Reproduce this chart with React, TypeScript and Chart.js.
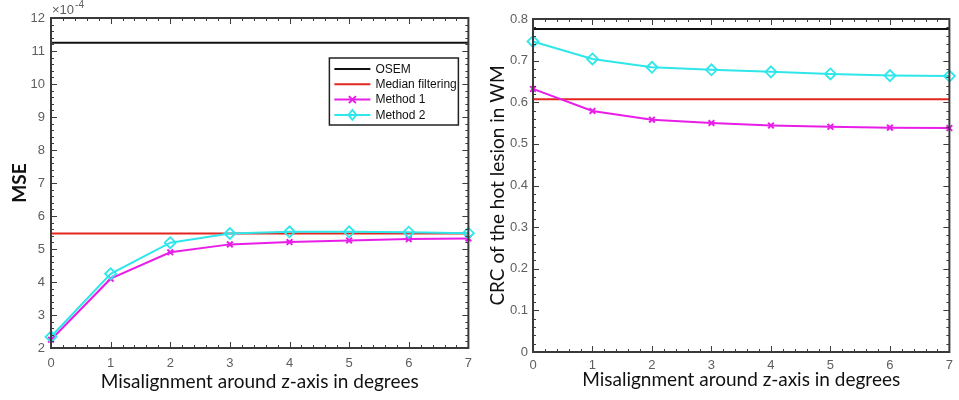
import React, { useEffect, useRef } from 'react';
import { Chart, registerables } from 'chart.js';

Chart.register(...registerables);

// ---------- data ----------
const degrees = [0, 1, 2, 3, 4, 5, 6, 7];

// MSE (×10^-4)
const mseOSEM = [11.25, 11.25, 11.25, 11.25, 11.25, 11.25, 11.25, 11.25];
const mseMedian = [5.47, 5.47, 5.47, 5.47, 5.47, 5.47, 5.47, 5.47];
const mseMethod1 = [2.25, 4.1, 4.9, 5.14, 5.21, 5.26, 5.3, 5.32];
const mseMethod2 = [2.34, 4.25, 5.19, 5.47, 5.52, 5.52, 5.51, 5.48];

// CRC of the hot lesion in WM
const crcOSEM = [0.776, 0.776, 0.776, 0.776, 0.776, 0.776, 0.776, 0.776];
const crcMedian = [0.607, 0.607, 0.607, 0.607, 0.607, 0.607, 0.607, 0.607];
const crcMethod1 = [0.632, 0.579, 0.558, 0.55, 0.544, 0.541, 0.539, 0.538];
const crcMethod2 = [0.746, 0.704, 0.684, 0.678, 0.673, 0.668, 0.664, 0.663];

const seriesNames = ['OSEM', 'Median filtering', 'Method 1', 'Method 2'];
const xTitle = 'Misalignment around z-axis in degrees';
const mseTitle = 'MSE';
const crcTitle = 'CRC of the hot lesion in WM';
const mseExponentBase = '×10';
const mseExponent = '-4';

// ---------- styles ----------
const BLACK = '#111111';
const RED = '#e3261f';
const MAGENTA = '#e81ee8';
const CYAN = '#2fe6ea';
const TICK_COLOR = '#5e5e5e';
const TICK_FONT = { family: '"Liberation Sans", Arial, sans-serif', size: 13 };
const TITLE_FONT_FAMILY = 'Lato, "Open Sans", sans-serif';

function makeDatasets(osem: number[], median: number[], m1: number[], m2: number[]) {
  const toPts = (arr: number[]) => degrees.map((d, i) => ({ x: d, y: arr[i] }));
  return [
    {
      label: seriesNames[0], data: toPts(osem), borderColor: BLACK, borderWidth: 2,
      pointRadius: 0, order: 4, clip: false as const,
    },
    {
      label: seriesNames[1], data: toPts(median), borderColor: RED, borderWidth: 2,
      pointRadius: 0, order: 3, clip: false as const,
    },
    {
      label: seriesNames[2], data: toPts(m1), borderColor: MAGENTA, borderWidth: 2,
      pointStyle: 'crossRot', pointRadius: 4, pointBorderWidth: 2,
      pointBorderColor: MAGENTA, pointBackgroundColor: 'transparent', order: 2, clip: false as const,
    },
    {
      label: seriesNames[3], data: toPts(m2), borderColor: CYAN, borderWidth: 2,
      pointStyle: 'rectRot', pointRadius: 5.5, pointBorderWidth: 1.8,
      pointBorderColor: CYAN, pointBackgroundColor: 'transparent', order: 1, clip: false as const,
    },
  ];
}

// MATLAB-like frame with inward major/minor ticks on all four sides
const framePlugin = {
  id: 'matlabFrame',
  afterDatasetsDraw(chart: any, _args: any, opts: any) {
    const { ctx, chartArea: a, scales } = chart;
    const xs = scales.x;
    const ys = scales.y;
    ctx.save();
    ctx.strokeStyle = '#3c3c3c';
    ctx.lineWidth = 1;
    const line = (x1: number, y1: number, x2: number, y2: number) => {
      ctx.beginPath();
      ctx.moveTo(x1, y1);
      ctx.lineTo(x2, y2);
      ctx.stroke();
    };
    const nx = Math.round((xs.max - xs.min) / opts.xMinor);
    for (let i = 0; i <= nx; i++) {
      const px = Math.round(xs.getPixelForValue(xs.min + i * opts.xMinor)) + 0.5;
      const len = i % opts.every === 0 ? 6 : 3;
      line(px, a.bottom, px, a.bottom - len);
      line(px, a.top, px, a.top + len);
    }
    const ny = Math.round((ys.max - ys.min) / opts.yMinor);
    for (let i = 0; i <= ny; i++) {
      const py = Math.round(ys.getPixelForValue(ys.min + i * opts.yMinor)) + 0.5;
      const len = i % opts.every === 0 ? 6 : 3;
      line(a.left, py, a.left + len, py);
      line(a.right, py, a.right - len, py);
    }
    ctx.lineWidth = 2;
    ctx.strokeStyle = '#3a3a3a';
    ctx.strokeRect(a.left, a.top, a.right - a.left, a.bottom - a.top);
    ctx.restore();
  },
};

// exponent label "×10^-4"
const exponentPlugin = {
  id: 'exponentLabel',
  afterDraw(chart: any, _args: any, opts: any) {
    if (!opts || !opts.base) return;
    const { ctx, chartArea: a } = chart;
    ctx.save();
    ctx.fillStyle = TICK_COLOR;
    ctx.textBaseline = 'alphabetic';
    ctx.font = '13px "Liberation Sans", Arial, sans-serif';
    ctx.fillText(opts.base, a.left + 1, a.top - 4);
    const w = ctx.measureText(opts.base).width;
    ctx.font = '10px "Liberation Sans", Arial, sans-serif';
    ctx.fillText(opts.exp, a.left + 1 + w + 1, a.top - 10);
    ctx.restore();
  },
};

// boxed legend inside the plot, MATLAB style
const boxLegendPlugin = {
  id: 'boxLegend',
  afterDraw(chart: any, _args: any, opts: any) {
    if (!opts || !opts.show) return;
    const { ctx, chartArea: a } = chart;
    const w = 129;
    const h = 67;
    const x0 = a.right - opts.right - w;
    const y0 = a.top + opts.top;
    ctx.save();
    ctx.fillStyle = '#ffffff';
    ctx.fillRect(x0, y0, w, h);
    ctx.strokeStyle = '#222';
    ctx.lineWidth = 1.5;
    ctx.strokeRect(x0, y0, w, h);
    ctx.font = '12px "Liberation Sans", Arial, sans-serif';
    ctx.textBaseline = 'middle';
    chart.data.datasets.forEach((ds: any, i: number) => {
      const cy = y0 + 11 + i * 15.3;
      ctx.strokeStyle = ds.borderColor;
      ctx.lineWidth = 2;
      ctx.beginPath();
      ctx.moveTo(x0 + 5, cy);
      ctx.lineTo(x0 + 41, cy);
      ctx.stroke();
      if (ds.pointRadius > 0) {
        ctx.lineWidth = ds.pointBorderWidth;
        const cx = x0 + 23;
        const r = ds.pointStyle === 'rectRot' ? 5 : 3.5;
        ctx.beginPath();
        if (ds.pointStyle === 'rectRot') {
          ctx.moveTo(cx, cy - r);
          ctx.lineTo(cx + r * 0.8, cy);
          ctx.lineTo(cx, cy + r);
          ctx.lineTo(cx - r * 0.8, cy);
          ctx.closePath();
        } else {
          ctx.moveTo(cx - r, cy - r);
          ctx.lineTo(cx + r, cy + r);
          ctx.moveTo(cx + r, cy - r);
          ctx.lineTo(cx - r, cy + r);
        }
        ctx.stroke();
      }
      ctx.fillStyle = '#111';
      ctx.fillText(ds.label, x0 + 46, cy + 0.5);
    });
    ctx.restore();
  },
};

interface PanelProps {
  width: number;
  datasets: any[];
  yMin: number;
  yMax: number;
  yStep: number;
  yMinor: number;
  yTitle: string;
  yTitleBold: boolean;
  plotLeft: number;
  plotTop: number;
  plotRightPad: number;
  plotBottomH: number;
  yTitlePad: number;
  xTitlePadBottom: number;
  xTickPad: number;
  yTickPad: number;
  legend: boolean;
  exponent: boolean;
}

function Panel(p: PanelProps) {
  const ref = useRef<HTMLCanvasElement | null>(null);
  useEffect(() => {
    if (!ref.current) return;
    const chart = new Chart(ref.current, {
      type: 'line',
      data: { datasets: p.datasets },
      plugins: [framePlugin, exponentPlugin, boxLegendPlugin],
      options: {
        responsive: false,
        animation: false,
        events: [],
        layout: { padding: { left: 0, top: p.plotTop, right: p.plotRightPad, bottom: 0 } },
        elements: { line: { tension: 0 } },
        plugins: {
          legend: { display: false },
          tooltip: { enabled: false },
          matlabFrame: { xMinor: 0.2, yMinor: p.yMinor, every: 5 },
          exponentLabel: p.exponent ? { base: mseExponentBase, exp: mseExponent } : {},
          boxLegend: { show: p.legend, right: 10, top: 40 },
        } as any,
        scales: {
          x: {
            type: 'linear',
            min: 0,
            max: 7,
            grid: { display: false, drawTicks: false },
            border: { display: false },
            ticks: { stepSize: 1, color: TICK_COLOR, font: TICK_FONT, padding: p.xTickPad, maxRotation: 0 },
            title: {
              display: true,
              text: xTitle,
              color: '#111',
              font: { family: TITLE_FONT_FAMILY, size: 19 },
              padding: { top: 0, bottom: p.xTitlePadBottom },
            },
            afterFit: (s: any) => { s.height = p.plotBottomH; },
          },
          y: {
            type: 'linear',
            min: p.yMin,
            max: p.yMax,
            grid: { display: false, drawTicks: false },
            border: { display: false },
            ticks: { stepSize: p.yStep, color: TICK_COLOR, font: TICK_FONT, padding: p.yTickPad },
            title: {
              display: true,
              text: p.yTitle,
              color: '#111',
              font: { family: TITLE_FONT_FAMILY, size: 19, weight: p.yTitleBold ? 'bold' : 'normal' },
              padding: { top: p.yTitlePad, bottom: 0 },
            },
            afterFit: (s: any) => { s.width = p.plotLeft; },
          },
        },
      } as any,
    });
    return () => chart.destroy();
  }, []);
  return <canvas ref={ref} width={p.width} height={400} style={{ display: 'block' }} />;
}

export default function App() {
  return (
    <div
      style={{
        position: 'fixed', left: 0, top: 0, width: 959, height: 400,
        background: '#fff', display: 'flex', flexDirection: 'row', overflow: 'hidden',
      }}
    >
      <Panel
        width={480}
        datasets={makeDatasets(mseOSEM, mseMedian, mseMethod1, mseMethod2)}
        yMin={2} yMax={12} yStep={1} yMinor={0.2}
        yTitle={mseTitle} yTitleBold={true}
        plotLeft={51} plotTop={18} plotRightPad={10} plotBottomH={52}
        yTitlePad={8} xTitlePadBottom={7} xTickPad={8} yTickPad={6}
        legend={true} exponent={true}
      />
      <Panel
        width={479}
        datasets={makeDatasets(crcOSEM, crcMedian, crcMethod1, crcMethod2)}
        yMin={0} yMax={0.8} yStep={0.1} yMinor={0.02}
        yTitle={crcTitle} yTitleBold={false}
        plotLeft={53} plotTop={19} plotRightPad={4} plotBottomH={48}
        yTitlePad={6} xTitlePadBottom={9} xTickPad={6} yTickPad={5}
        legend={false} exponent={false}
      />
    </div>
  );
}
